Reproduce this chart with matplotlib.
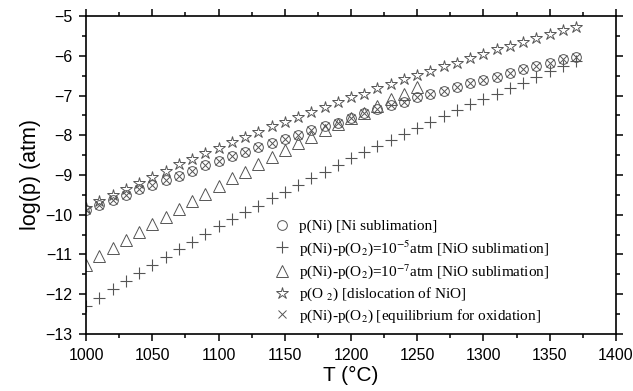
import numpy as np
import matplotlib.pyplot as plt
from matplotlib.ticker import MultipleLocator

# temperature (deg C)
T = list(range(1000, 1371, 10))

# p(Ni) [Ni sublimation] -- same points for the x markers
ni = [-9.88, -9.75, -9.63, -9.50, -9.36, -9.25, -9.13, -9.02, -8.89, -8.75,
      -8.64, -8.52, -8.41, -8.30, -8.19, -8.09, -7.99, -7.87, -7.78, -7.68,
      -7.56, -7.45, -7.35, -7.24, -7.16, -7.05, -6.96, -6.88, -6.78, -6.69,
      -6.60, -6.53, -6.44, -6.33, -6.27, -6.19, -6.09, -6.03]

# p(Ni)-p(O2)=1e-5 atm
ni_o5 = [-12.30, -12.09, -11.88, -11.68, -11.47, -11.26, -11.07, -10.86, -10.69, -10.49,
         -10.29, -10.12, -9.94, -9.77, -9.57, -9.42, -9.25, -9.08, -8.92, -8.75,
         -8.58, -8.43, -8.26, -8.12, -7.97, -7.81, -7.67, -7.52, -7.36, -7.22,
         -7.10, -6.95, -6.80, -6.68, -6.53, -6.38, -6.26, -6.12]

# p(Ni)-p(O2)=1e-7 atm (1000..1250)
T7 = list(range(1000, 1251, 10))
ni_o7 = [-11.26, -11.05, -10.84, -10.64, -10.44, -10.24, -10.07, -9.86, -9.65, -9.48,
         -9.28, -9.08, -8.92, -8.73, -8.56, -8.37, -8.20, -8.04, -7.86, -7.71,
         -7.56, -7.43, -7.26, -7.10, -6.95, -6.79]

# p(O2) [dislocation of NiO]
o2 = [-9.84, -9.65, -9.50, -9.36, -9.19, -9.04, -8.89, -8.73, -8.61, -8.45,
      -8.33, -8.16, -8.05, -7.91, -7.78, -7.66, -7.53, -7.41, -7.30, -7.17,
      -7.05, -6.95, -6.82, -6.72, -6.59, -6.48, -6.38, -6.27, -6.17, -6.06,
      -5.96, -5.84, -5.75, -5.65, -5.55, -5.45, -5.35, -5.27]

labels = [
    'p(Ni) [Ni sublimation]',
    r'p(Ni)-p(O$_2$)=10$^{-5}$atm [NiO sublimation]',
    r'p(Ni)-p(O$_2$)=10$^{-7}$atm [NiO sublimation]',
    r'p(O $_2$) [dislocation of NiO]',
    r'p(Ni)-p(O$_2$) [equilibrium for oxidation]',
]

plt.rcParams['mathtext.fontset'] = 'stix'
ec = '#555555'

fig = plt.figure(figsize=(6.33, 3.91), dpi=100)
ax = fig.add_axes([0.136, 0.146, 0.837, 0.813])

ax.plot(T, ni, 'o', ms=7, mfc='none', mec=ec, mew=0.7, label=labels[0])
ax.plot(T, ni_o5, '+', ms=8, mec=ec, mew=0.8, label=labels[1])
ax.plot(T7, ni_o7, '^', ms=9, mfc='none', mec=ec, mew=0.7, label=labels[2])
ax.plot(T, o2, '*', ms=9, mfc='none', mec=ec, mew=0.7, label=labels[3])
ax.plot(T, ni, 'x', ms=6, mec=ec, mew=0.7, label=labels[4])

ax.set_xlim(1000, 1400)
ax.set_ylim(-13, -5)
ax.xaxis.set_major_locator(MultipleLocator(50))
ax.xaxis.set_minor_locator(MultipleLocator(25))
ax.yaxis.set_major_locator(MultipleLocator(1))
ax.yaxis.set_minor_locator(MultipleLocator(0.5))
ax.tick_params(which='both', direction='out', top=True, right=True,
               labelfontfamily='Liberation Sans', labelsize=11.5, width=1.1)
ax.tick_params(which='major', length=5, pad=5)
ax.tick_params(which='minor', length=3)
for s in ax.spines.values():
    s.set_linewidth(1.2)

ax.set_xlabel('T (°C)', family='Liberation Sans', fontsize=15, labelpad=2)
ax.set_ylabel('log(p) (atm)', family='Liberation Sans', fontsize=15.5, labelpad=3)

ax.legend(loc='upper left', bbox_to_anchor=(0.355, 0.36), frameon=False,
          prop={'family': 'Liberation Serif', 'size': 11},
          handlelength=1.0, handletextpad=0.6, labelspacing=0.3,
          borderpad=0, borderaxespad=0)

fig.savefig('out.png', dpi=100)
